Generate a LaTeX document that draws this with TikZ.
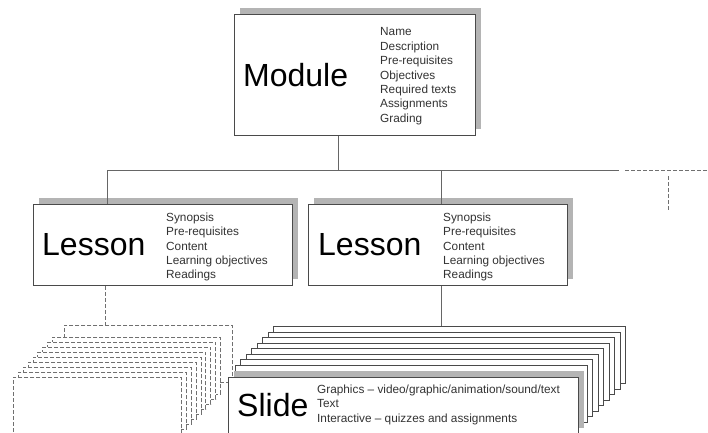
\documentclass[tikz,border=0pt]{standalone}
\usepackage{fontspec}
\setmainfont{Liberation Sans}
\usetikzlibrary{shadows}
\definecolor{boxc}{HTML}{4A4A4A}
\definecolor{linec}{HTML}{666666}
\definecolor{shadowc}{HTML}{B4B4B4}
\definecolor{listc}{HTML}{333333}
\definecolor{dashc}{HTML}{707070}
\tikzset{
  mainbox/.style={draw=boxc, fill=white, line width=0.9pt, inner sep=0pt, anchor=north west,
    drop shadow={shadow xshift=6pt, shadow yshift=6pt, opacity=1, fill=shadowc}},
  backbox/.style={draw=boxc, fill=white, line width=0.8pt, inner sep=0pt, anchor=north west,
    minimum width=352pt, minimum height=57pt},
  dashbox/.style={draw=dashc, fill=white, line width=0.9pt, dash pattern=on 4pt off 2pt,
    inner sep=0pt, anchor=north west, minimum width=168pt, minimum height=57pt},
  bigword/.style={font=\fontsize{32}{36}\selectfont, inner sep=0pt, anchor=west},
  listtext/.style={font=\fontsize{11.8}{14.4}\selectfont, text=listc, inner sep=0pt,
    align=left, anchor=north west},
  conn/.style={draw=linec, line width=0.8pt},
  dconn/.style={draw=dashc, line width=0.9pt, dash pattern=on 4pt off 2pt}
}
\begin{document}
\begin{tikzpicture}[x=1pt,y=-1pt]
\useasboundingbox (0,0) rectangle (708,432);
\clip (0,0) rectangle (708,432);

% Module
\node[mainbox, minimum width=241pt, minimum height=121pt] (module) at (234,14) {};
\node[bigword] (modt) at (243,75) {Module};
\node[listtext] (modl) at (380,27.6) {Name\\Description\\Pre-requisites\\Objectives\\Required texts\\Assignments\\Grading};

% Lessons
\node[mainbox, minimum width=259pt, minimum height=81pt] (les1) at (33,204) {};
\node[bigword] (les1t) at (42,245) {Lesson};
\node[listtext] (les1l) at (166,212.6) {Synopsis\\Pre-requisites\\Content\\Learning objectives\\Readings};

\node[mainbox, minimum width=259pt, minimum height=81pt] (les2) at (308,204) {};
\node[bigword] (les2t) at (318,245) {Lesson};
\node[listtext] (les2l) at (443,212.6) {Synopsis\\Pre-requisites\\Content\\Learning objectives\\Readings};

% Bus
\coordinate (j0) at (338,170);
\coordinate (j1) at (107,170);
\coordinate (j2) at (441,170);
\coordinate (jend) at (619,170);
\coordinate (d0) at (625,170);
\coordinate (d1) at (708,170);
\coordinate (v0) at (668,176);
\coordinate (v1) at (668,211);
\path[conn] (module.south -| j0) -- (j0);
\path[conn] (j1) -- (jend);
\path[conn] (j1) -- (les1.north -| j1);
\path[conn] (j2) -- (les2.north -| j2);
\path[dconn] (d0) -- (d1);
\path[dconn] (v0) -- (v1);

% Dashed stack (under lesson 1)
\node[dashbox] (dash0) at (64,325) {};
\foreach \i in {0,...,8} {
  \node[dashbox] (dash\the\numexpr\i+1\relax) at ({52-4.875*\i},{337+5*\i}) {};
}
\path[dconn] (les1.south -| 105,0) -- (dash0.north -| 105,0);

% Slide stack (under lesson 2)
\foreach \i in {0,...,7} {
  \node[backbox] (sl\i) at ({273-5.43*\i},{326+5.57*\i}) {};
}
\node[mainbox, minimum width=350pt, minimum height=57pt] (slide) at (228,377) {};
\node[bigword] (slidet) at (237,405) {Slide};
\node[listtext, font=\fontsize{11.8}{14.5}\selectfont] (slidel) at (317,384.6) {Graphics -- video/graphic/animation/sound/text\\Text\\Interactive -- quizzes and assignments};
\path[conn] (les2.south -| j2) -- (sl0.north -| j2);
\end{tikzpicture}
\end{document}
